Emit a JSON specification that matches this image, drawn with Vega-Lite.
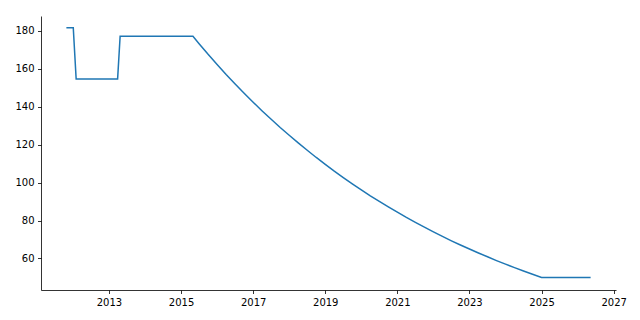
{
  "$schema": "https://vega.github.io/schema/vega-lite/v6.json",
  "width": 575,
  "height": 274,
  "autosize": "none",
  "padding": {"left": 41, "top": 16, "right": 24, "bottom": 30},
  "background": "white",
  "config": {
    "view": {"stroke": null},
    "axis": {
      "grid": false,
      "domainColor": "black",
      "domainWidth": 0.8,
      "tickColor": "black",
      "tickWidth": 0.8,
      "tickSize": 3.5,
      "labelPadding": 3.5,
      "labelFont": "DejaVu Sans",
      "labelFontSize": 10,
      "labelColor": "black",
      "labelFlush": false,
      "labelOverlap": false,
      "title": null
    }
  },
  "data": {
    "values": [
      {"year": 2011.84, "value": 181.5},
      {"year": 2012.01, "value": 181.5},
      {"year": 2012.09, "value": 154.5},
      {"year": 2013.24, "value": 154.5},
      {"year": 2013.31, "value": 177.0},
      {"year": 2015.33, "value": 177.0},
      {"year": 2015.5, "value": 173.1},
      {"year": 2015.75, "value": 167.5},
      {"year": 2016.0, "value": 162.2},
      {"year": 2016.25, "value": 156.9},
      {"year": 2016.5, "value": 151.9},
      {"year": 2016.75, "value": 147.0},
      {"year": 2017.0, "value": 142.3},
      {"year": 2017.25, "value": 137.7},
      {"year": 2017.5, "value": 133.3},
      {"year": 2017.75, "value": 129.0},
      {"year": 2018.0, "value": 124.9},
      {"year": 2018.25, "value": 120.9},
      {"year": 2018.5, "value": 117.0},
      {"year": 2018.75, "value": 113.2},
      {"year": 2019.0, "value": 109.6},
      {"year": 2019.25, "value": 106.0},
      {"year": 2019.5, "value": 102.6},
      {"year": 2019.75, "value": 99.3},
      {"year": 2020.0, "value": 96.1},
      {"year": 2020.25, "value": 93.0},
      {"year": 2020.5, "value": 90.1},
      {"year": 2020.75, "value": 87.2},
      {"year": 2021.0, "value": 84.4},
      {"year": 2021.25, "value": 81.6},
      {"year": 2021.5, "value": 79.0},
      {"year": 2021.75, "value": 76.5},
      {"year": 2022.0, "value": 74.0},
      {"year": 2022.25, "value": 71.6},
      {"year": 2022.5, "value": 69.3},
      {"year": 2022.75, "value": 67.1},
      {"year": 2023.0, "value": 65.0},
      {"year": 2023.25, "value": 62.9},
      {"year": 2023.5, "value": 60.9},
      {"year": 2023.75, "value": 58.9},
      {"year": 2024.0, "value": 57.0},
      {"year": 2024.25, "value": 55.2},
      {"year": 2024.5, "value": 53.4},
      {"year": 2024.75, "value": 51.7},
      {"year": 2025.0, "value": 50.0},
      {"year": 2026.34, "value": 50.0}
    ]
  },
  "mark": {"type": "line", "color": "#1f77b4", "strokeWidth": 1.5, "strokeJoin": "miter", "strokeCap": "square"},
  "encoding": {
    "x": {
      "field": "year",
      "type": "quantitative",
      "scale": {"domain": [2011.115, 2027.065], "nice": false, "zero": false},
      "axis": {"values": [2013, 2015, 2017, 2019, 2021, 2023, 2025, 2027], "format": "d"}
    },
    "y": {
      "field": "value",
      "type": "quantitative",
      "scale": {"domain": [43.4, 187.7], "nice": false, "zero": false},
      "axis": {"values": [60, 80, 100, 120, 140, 160, 180]}
    },
    "order": {"field": "year", "type": "quantitative"}
  }
}
